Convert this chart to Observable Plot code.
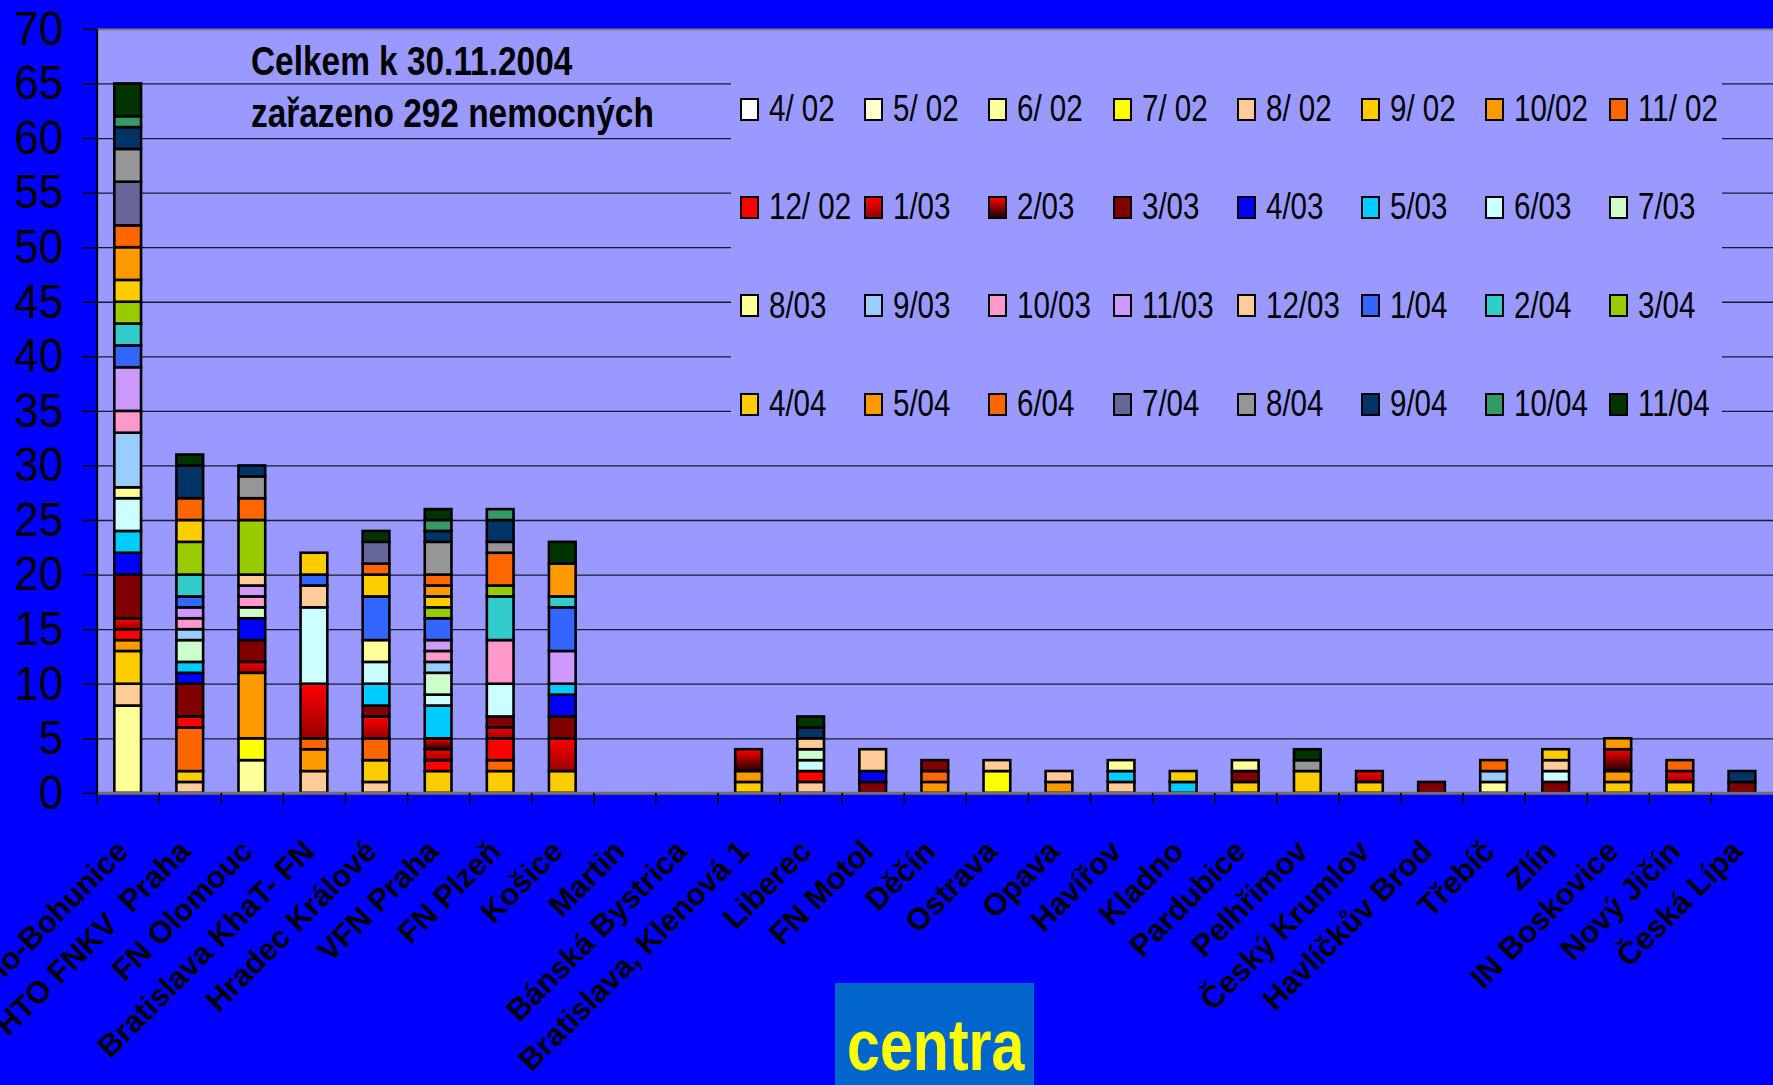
<!DOCTYPE html>
<html><head><meta charset="utf-8">
<script src="https://cdn.jsdelivr.net/npm/d3@7"></script>
<script src="https://cdn.jsdelivr.net/npm/@observablehq/plot@0.6"></script>
<style>
html,body{margin:0;padding:0;overflow:hidden;background:#0000FF;}
#wrap{position:relative;width:1773px;height:1085px;overflow:hidden;background:#0000FF;}
#wrap svg{position:absolute;left:0;top:0;}
.title{position:absolute;left:251px;top:35px;font-weight:bold;font-size:40px;line-height:52px;color:#000;white-space:nowrap;transform-origin:0 0;}
#legend{position:absolute;left:731px;top:78px;width:991px;height:342px;background:#9999FF;}
.li{position:absolute;height:24px;display:flex;align-items:center;white-space:nowrap;}
.sw{width:19px;height:23px;box-sizing:border-box;border:2.5px solid #000;margin-right:10px;flex:none;}
.lt{display:inline-block;font-size:36px;line-height:36px;color:#000;transform-origin:0 50%;}
#centra{position:absolute;left:835px;top:983px;width:199px;height:110px;background:#0066CC;}
#centra span{position:absolute;left:12px;top:25px;display:inline-block;font-weight:bold;font-size:73px;line-height:73px;color:#FFFF00;transform-origin:0 0;white-space:nowrap;}
</style></head><body><div id="wrap"></div>
<script>
// ---- data ----
const hospitals = ["Brno-Bohunice","HTO FNKV  Praha","FN Olomouc","Bratislava KhaT- FN","Hradec Králové","VFN Praha","FN Plzeň","Košice","Martin","Bánská Bystrica","Bratislava, Klenová 1","Liberec","FN Motol","Děčín","Ostrava","Opava","Havířov","Kladno","Pardubice","Pelhřimov","Český Krumlov","Havlíčkův Brod","Třebíč","Zlín","IN Boskovice","Nový Jičín","Česká Lípa"];
const periods = ["4/02","5/02","6/02","7/02","8/02","9/02","10/02","11/02","12/02","1/03","2/03","3/03","4/03","5/03","6/03","7/03","8/03","9/03","10/03","11/03","12/03","1/04","2/04","3/04","4/04","5/04","6/04","7/04","8/04","9/04","10/04","11/04"];
const legendLabels = ["4/ 02","5/ 02","6/ 02","7/ 02","8/ 02","9/ 02","10/02","11/ 02","12/ 02","1/03","2/03","3/03","4/03","5/03","6/03","7/03","8/03","9/03","10/03","11/03","12/03","1/04","2/04","3/04","4/04","5/04","6/04","7/04","8/04","9/04","10/04","11/04"];
const periodColors = ["#FFFFFF","#FFFFCC","#FFFF99","#FFFF00","#FFCC99","#FFCC00","#FF9900","#FF6600","#FF0000","url(#g103)","url(#g203)","#800000","#0000FF","#00CCFF","#CCFFFF","#CCFFCC","#FFFF99","#99CCFF","#FF99CC","#CC99FF","#FFCC99","#3366FF","#33CCCC","#99CC00","#FFCC00","#FF9900","#FF6600","#666699","#969696","#003366","#339966","#003300"];
const legendColors = periodColors.map(c => c === "url(#g103)" ? "linear-gradient(#FF0000,#990000)" : c === "url(#g203)" ? "linear-gradient(#FF0000,#200000)" : c);
// counts per period (rows) for each hospital (columns, same order as hospitals)
const counts = [
 [0,0,0,0,0,0,0,0,0,0,0,0,0,0,0,0,0,0,0,0,0,0,0,0,0,0,0], // 4/02
 [0,0,0,0,0,0,0,0,0,0,0,0,0,0,0,0,0,0,0,0,0,0,0,0,0,0,0], // 5/02
 [8,0,3,0,0,0,0,0,0,0,0,0,0,0,0,0,0,0,0,0,0,0,0,0,0,0,0], // 6/02
 [0,0,2,0,0,0,0,0,0,0,0,0,0,0,2,0,0,0,0,0,0,0,0,0,0,0,0], // 7/02
 [2,1,0,2,1,0,0,0,0,0,0,1,0,0,1,0,1,0,0,0,0,0,0,0,0,0,0], // 8/02
 [3,1,0,0,2,2,2,2,0,0,1,0,0,0,0,0,0,0,1,0,1,0,0,0,1,1,0], // 9/02
 [1,0,6,2,0,0,0,0,0,0,1,0,0,1,0,1,0,0,0,0,0,0,0,0,1,0,0], // 10/02
 [0,4,0,1,2,0,1,0,0,0,0,0,0,1,0,0,0,0,0,0,0,0,0,0,0,0,0], // 11/02
 [1,1,0,0,0,1,2,0,0,0,0,1,0,0,0,0,0,0,0,0,0,0,0,0,0,0,0], // 12/02
 [1,0,1,5,2,1,1,3,0,0,0,0,0,0,0,0,0,0,0,0,1,0,0,0,0,1,0], // 1/03
 [0,0,0,0,0,1,0,0,0,0,2,0,0,0,0,0,0,0,0,0,0,0,0,0,2,0,0], // 2/03
 [4,3,2,0,1,0,1,2,0,0,0,0,1,1,0,0,0,0,1,0,0,1,0,1,0,0,1], // 3/03
 [2,1,2,0,0,0,0,2,0,0,0,0,1,0,0,0,0,0,0,0,0,0,0,0,0,0,0], // 4/03
 [2,1,0,0,2,3,0,1,0,0,0,0,0,0,0,0,1,1,0,0,0,0,0,0,0,0,0], // 5/03
 [3,0,0,7,2,1,3,0,0,0,0,1,0,0,0,0,0,0,0,0,0,0,0,1,0,0,0], // 6/03
 [0,2,1,0,0,2,0,0,0,0,0,1,0,0,0,0,0,0,0,0,0,0,0,0,0,0,0], // 7/03
 [1,0,0,0,2,0,0,0,0,0,0,0,0,0,0,0,1,0,1,0,0,0,1,0,0,0,0], // 8/03
 [5,1,0,0,0,1,0,0,0,0,0,0,0,0,0,0,0,0,0,0,0,0,1,0,0,0,0], // 9/03
 [2,1,1,0,0,1,4,0,0,0,0,0,0,0,0,0,0,0,0,0,0,0,0,0,0,0,0], // 10/03
 [4,1,1,0,0,1,0,3,0,0,0,0,0,0,0,0,0,0,0,0,0,0,0,0,0,0,0], // 11/03
 [0,0,1,2,0,0,0,0,0,0,0,1,2,0,0,1,0,0,0,0,0,0,0,1,0,0,0], // 12/03
 [2,1,0,1,4,2,0,4,0,0,0,0,0,0,0,0,0,0,0,0,0,0,0,0,0,0,0], // 1/04
 [2,2,0,0,0,0,4,1,0,0,0,0,0,0,0,0,0,0,0,0,0,0,0,0,0,0,0], // 2/04
 [2,3,5,0,0,1,1,0,0,0,0,0,0,0,0,0,0,0,0,0,0,0,0,0,0,0,0], // 3/04
 [2,2,0,2,2,1,0,0,0,0,0,0,0,0,0,0,0,1,0,2,0,0,0,1,0,0,0], // 4/04
 [3,0,0,0,0,1,0,3,0,0,0,0,0,0,0,0,0,0,0,0,0,0,0,0,1,0,0], // 5/04
 [2,2,2,0,1,1,3,0,0,0,0,0,0,0,0,0,0,0,0,0,0,0,1,0,0,1,0], // 6/04
 [4,0,0,0,2,0,0,0,0,0,0,0,0,0,0,0,0,0,0,0,0,0,0,0,0,0,0], // 7/04
 [3,0,2,0,0,3,1,0,0,0,0,0,0,0,0,0,0,0,0,1,0,0,0,0,0,0,0], // 8/04
 [2,3,1,0,0,1,2,0,0,0,0,1,0,0,0,0,0,0,0,0,0,0,0,0,0,0,1], // 9/04
 [1,0,0,0,0,1,1,0,0,0,0,0,0,0,0,0,0,0,0,0,0,0,0,0,0,0,0], // 10/04
 [3,1,0,0,1,1,0,2,0,0,0,1,0,0,0,0,0,0,0,1,0,0,0,0,0,0,0]  // 11/04
];
const yTicks = [0,5,10,15,20,25,30,35,40,45,50,55,60,65,70];
const titleLines = ["Celkem k 30.11.2004","zařazeno 292 nemocných"];
const logoText = "centra";

// ---- fonts: emulate a narrow face (Arial Narrow) by horizontal scaling when none is installed ----
function hasFont(name){
  const c = document.createElement("canvas").getContext("2d");
  c.font = "40px monospace"; const a = c.measureText("mmmwwwiii0123ABC").width;
  c.font = `40px "${name}", monospace`; const b = c.measureText("mmmwwwiii0123ABC").width;
  return a !== b;
}
const haveNarrow = hasFont("Liberation Sans Narrow");
const NARROW = haveNarrow ? '"Liberation Sans Narrow", sans-serif' : '"Liberation Sans", Arial, sans-serif';
const SQUEEZE = haveNarrow ? 1 : 0.82;
const TICKSQUEEZE = haveNarrow ? 1 : 0.92;
const WIDE = '"Liberation Sans", Arial, sans-serif';

// ---- rows (stack order = period order, bottom first) ----
const rows = [];
hospitals.forEach((h, j) => periods.forEach((p, i) => { if (counts[i][j] > 0) rows.push({hospital: h, period: p, value: counts[i][j]}); }));

const W = 1780, H = 1085, ML = 97, MR = 0, MT = 29, MB = 289;
const step = (W - ML - MR) / hospitals.length;

const svg = Plot.plot({
  width: W, height: H,
  marginLeft: ML, marginRight: MR, marginTop: MT, marginBottom: MB,
  style: {background: "#0000FF", fontFamily: NARROW, color: "#000", overflow: "visible"},
  x: {domain: hospitals, paddingInner: 0.57, paddingOuter: 0.285, round: false, axis: null},
  y: {domain: [0, 70]},
  color: {type: "ordinal", domain: periods, range: periodColors},
  marks: [
    Plot.frame({fill: "#9999FF"}),
    Plot.ruleY(yTicks.filter(d => d > 0 && d < 70), {stroke: "#1a1a2e", strokeWidth: 1.3}),
    Plot.ruleY([70], {stroke: "#808080", strokeWidth: 2}),
    Plot.barY(rows, Plot.stackY({x: "hospital", y: "value", fill: "period", stroke: "#000", strokeWidth: 2.6, inset: 0})),
    Plot.ruleY([0], {stroke: "#707070", strokeWidth: 3}),
    Plot.ruleX(hospitals, {x: d => d, y1: 0, y2: 0, insetBottom: -11, dx: -step / 2, stroke: "#000", strokeWidth: 1.5}),
    Plot.ruleX([hospitals[0]], {x: d => d, dx: -step / 2, stroke: "#000", strokeWidth: 2}),
    Plot.axisY({ticks: yTicks, tickSize: 14, tickPadding: 20, fontSize: 48, label: null, stroke: "#000", strokeWidth: 1.5}),
    Plot.text(hospitals, {x: d => d, frameAnchor: "bottom", dy: 53, dx: -5, rotate: -45, textAnchor: "end", lineAnchor: "middle",
      fontSize: 31, fontWeight: "bold", fontFamily: WIDE, fill: "#000"})
  ]
});

const defs = d3.select(svg).insert("defs", ":first-child");
const g1 = defs.append("linearGradient").attr("id", "g103").attr("x1", 0).attr("y1", 0).attr("x2", 0).attr("y2", 1);
g1.append("stop").attr("offset", "0%").attr("stop-color", "#FF0000");
g1.append("stop").attr("offset", "100%").attr("stop-color", "#990000");
const g2 = defs.append("linearGradient").attr("id", "g203").attr("x1", 0).attr("y1", 0).attr("x2", 0).attr("y2", 1);
g2.append("stop").attr("offset", "0%").attr("stop-color", "#FF0000");
g2.append("stop").attr("offset", "100%").attr("stop-color", "#200000");

// narrow the numeric y tick labels a little (Arial Narrow-like look)
if (TICKSQUEEZE !== 1) {
  d3.select(svg).selectAll("text").each(function() {
    if (!/^\d+$/.test(this.textContent.trim())) return;
    const tr = this.getAttribute("transform");
    if (tr) this.setAttribute("transform", tr + ` scale(${TICKSQUEEZE},1)`);
    else {
      const x = +this.getAttribute("x") || 0;
      this.setAttribute("transform", `translate(${x},0) scale(${TICKSQUEEZE},1) translate(${-x},0)`);
    }
  });
}

const wrap = document.getElementById("wrap");
wrap.appendChild(svg);

// title
const t = document.createElement("div");
t.className = "title"; t.style.fontFamily = NARROW; t.style.transform = `scaleX(${haveNarrow ? 1 : 0.835})`;
t.innerHTML = titleLines.join("<br>");
wrap.appendChild(t);

// legend
const lg = document.createElement("div"); lg.id = "legend";
periods.forEach((p, i) => {
  const col = i % 8, row = Math.floor(i / 8);
  const it = document.createElement("div"); it.className = "li";
  it.style.left = (9 + col * 124.2) + "px";
  it.style.top = (19 + row * 98.4) + "px";
  const sw = document.createElement("div"); sw.className = "sw"; sw.style.background = legendColors[i];
  const tx = document.createElement("span"); tx.className = "lt"; tx.style.fontFamily = NARROW;
  tx.style.transform = `scaleX(${SQUEEZE})`; tx.textContent = legendLabels[i];
  it.appendChild(sw); it.appendChild(tx); lg.appendChild(it);
});
wrap.appendChild(lg);

// logo
const lo = document.createElement("div"); lo.id = "centra";
const ls = document.createElement("span"); ls.style.fontFamily = NARROW; ls.style.transform = `scaleX(${haveNarrow ? 1 : 0.81})`;
ls.textContent = logoText;
lo.appendChild(ls); wrap.appendChild(lo);
</script></body></html>
